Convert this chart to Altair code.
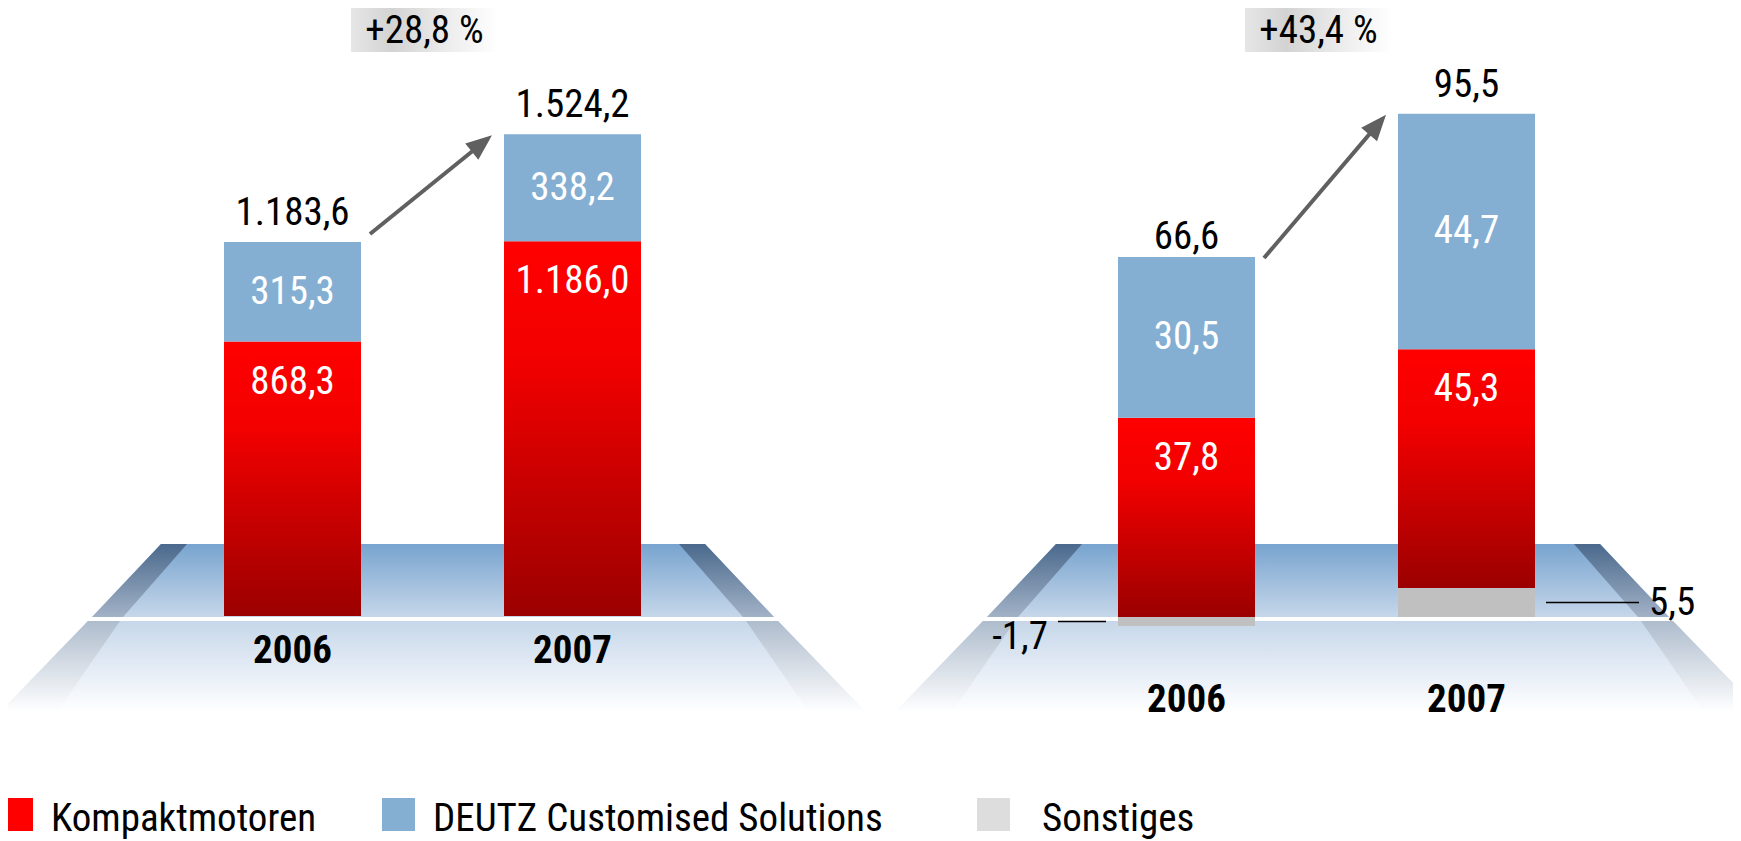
import math
import altair as alt
import pandas as pd

# ---------------- data ----------------
years = ["2006", "2007"]
segments = ["Kompaktmotoren", "DEUTZ Customised Solutions", "Sonstiges"]

umsatz_kompakt = [868.3, 1186.0]
umsatz_dcs = [315.3, 338.2]
umsatz_total = [1183.6, 1524.2]

ebit_kompakt = [37.8, 45.3]
ebit_dcs = [30.5, 44.7]
ebit_sonstiges = [-1.7, 5.5]
ebit_total = [66.6, 95.5]

legend_colors = ["#ff0000", "#84aed2", "#dddddd"]

# ---------------- layout / style ----------------
FONT = "Roboto Condensed, Roboto, sans-serif"
FS = 39
M = 8                      # page margin
W, H = 1725, 833           # svg size
STEP, BARW = 280, 137      # distance between bar centres, bar width
BLUE = "#84aed2"
GREY = "#c0c0c0"
ARROW = "#606060"

legend_square_x = [0, 382, 977]
legend_text_x = [51, 433, 1042]
LEGEND_BASE = 831


def lx(x):
    return x - M


def ly(y):
    return y - M


def stops(pairs):
    return [alt.GradientStop(color=c, offset=o) for o, c in pairs]


def vgrad(pairs):
    return alt.LinearGradient(gradient="linear", stops=stops(pairs), x1=0, x2=0, y1=0, y2=1)


RED_GRAD = vgrad([(0, "#ff0000"), (0.32, "#f20000"), (1, "#9b0000")])
BOX_GRAD = alt.LinearGradient(
    gradient="linear",
    stops=stops([(0, "#e6e6e6"), (0.28, "#d3d3d3"), (0.65, "#ececec"), (1, "#ffffff")]),
    x1=0, x2=1, y1=0, y2=0,
)


def xscale(bar0_left):
    pi = 1 - BARW / STEP
    a = lx(bar0_left)
    b = a + STEP * (2 - pi)
    return alt.Scale(domain=years, range=[a, b], paddingInner=pi, paddingOuter=0, round=False)


def yscale(baseline, k):
    top = ly(baseline) / k
    bottom = -(H - ly(baseline)) / k
    return alt.Scale(domain=[bottom, top], nice=False, zero=False)


# ---------------- platform decoration ----------------
def poly_area(verts, grad):
    xs = sorted(set(v[0] for v in verts))
    n = len(verts)
    rows = []
    for x in xs:
        ys = []
        for i in range(n):
            (x1, y1), (x2, y2) = verts[i], verts[(i + 1) % n]
            if min(x1, x2) <= x <= max(x1, x2):
                if x1 == x2:
                    ys += [y1, y2]
                else:
                    ys.append(y1 + (y2 - y1) * (x - x1) / (x2 - x1))
        rows.append({"px": lx(x), "py": ly(min(ys)), "py2": ly(max(ys))})
    return alt.Chart(pd.DataFrame(rows)).mark_area(color=grad, orient="vertical").encode(
        x=alt.X("px:Q", scale=None), y=alt.Y("py:Q", scale=None), y2="py2:Q"
    )


def platform(dx):
    def s(pts):
        return [(x + dx, y) for x, y in pts]
    return [
        poly_area(s([(88, 621), (778, 621), (866, 712), (0, 712)]),
                  vgrad([(0, "#c6d7e9"), (0.55, "#e6edf6"), (1, "#ffffff")])),
        poly_area(s([(88, 621), (120, 621), (57, 712), (0, 712)]),
                  vgrad([(0, "#aebccd"), (1, "#ffffff")])),
        poly_area(s([(778, 621), (746, 621), (809, 712), (866, 712)]),
                  vgrad([(0, "#aebccd"), (1, "#ffffff")])),
        poly_area(s([(161, 544), (705, 544), (774, 617), (92, 617)]),
                  vgrad([(0, "#78a4cf"), (1, "#c6d7ea")])),
        poly_area(s([(161, 544), (187, 544), (123, 617), (92, 617)]),
                  vgrad([(0, "#4a698c"), (1, "#a2b2c7")])),
        poly_area(s([(705, 544), (679, 544), (743, 617), (774, 617)]),
                  vgrad([(0, "#4a698c"), (1, "#a2b2c7")])),
    ]


# ---------------- panels ----------------
def make_panel(kompakt, dcs, sonst, totals, P):
    rows = []
    for i, yr in enumerate(years):
        if sonst is not None:
            rows.append(dict(year=yr, segment=segments[2], value=sonst[i], order=0))
        rows.append(dict(year=yr, segment=segments[0], value=kompakt[i], order=1))
        rows.append(dict(year=yr, segment=segments[1], value=dcs[i], order=2))
    df = pd.DataFrame(rows)
    xs = xscale(P["bar0_left"])
    ys = yscale(P["baseline"], P["k"])

    def X(field="year", bp=None):
        if bp is None:
            return alt.X(f"{field}:N", scale=xs, axis=None)
        return alt.X(f"{field}:N", scale=xs, axis=None, bandPosition=bp)

    def Y(field):
        return alt.Y(f"{field}:Q", scale=ys, axis=None)

    base = alt.Chart(df).transform_stack(
        stack="value", groupby=["year"], as_=["v0", "v1"],
        sort=[alt.SortField("order", order="ascending")], offset="zero",
    ).transform_calculate(mid="(datum.v0+datum.v1)/2", top="max(datum.v0,datum.v1)")

    def seg(s):
        return base.transform_filter(alt.datum.segment == s)

    txt = dict(font=FONT, fontSize=FS)
    fmt = ",.1f"
    layers = []

    # growth box + label
    gdf = pd.DataFrame([{"y_from": years[0], "y_to": years[1], "t0": totals[0], "t1": totals[1]}])
    gchart = alt.Chart(gdf).transform_calculate(
        growth="(datum.t1 >= datum.t0 ? '+' : '') + replace(format((datum.t1 / datum.t0 - 1) * 100, '.1f'), '.', ',') + ' %'"
    )
    layers.append(gchart.mark_bar(color=BOX_GRAD, width=147, xOffset=132).encode(
        x=X("y_from"), y=alt.value(ly(2)), y2=alt.value(ly(52))))
    layers.append(gchart.mark_text(baseline="alphabetic", dx=132, color="black", **txt).encode(
        x=X("y_from"), y=alt.value(ly(43)), text="growth:N"))

    # stacked bars
    layers.append(seg(segments[0]).mark_bar(color=RED_GRAD).encode(x=X(), y=Y("v0"), y2="v1:Q"))
    layers.append(seg(segments[1]).mark_bar(color=BLUE).encode(x=X(), y=Y("v0"), y2="v1:Q"))
    if sonst is not None:
        layers.append(seg(segments[2]).mark_bar(color=GREY).encode(x=X(), y=Y("v0"), y2="v1:Q"))

    # inner labels
    layers.append(seg(segments[1]).mark_text(color="white", baseline="middle", **txt).encode(
        x=X(), y=Y("mid"), text=alt.Text("value:Q", format=fmt)))
    layers.append(seg(segments[0]).mark_text(color="white", baseline="middle", dy=40, **txt).encode(
        x=X(), y=Y("top"), text=alt.Text("value:Q", format=fmt)))

    # Sonstiges annotations with leader lines
    if sonst is not None:
        pos = base.transform_filter((alt.datum.segment == segments[2]) & (alt.datum.value > 0))
        neg = base.transform_filter((alt.datum.segment == segments[2]) & (alt.datum.value < 0))
        layers.append(pos.mark_rule(color="black", strokeWidth=1.5, xOffset=11, x2Offset=104).encode(
            x=X(bp=1), x2=alt.X2("year:N", bandPosition=1), y=Y("mid")))
        layers.append(pos.mark_text(color="black", align="left", baseline="middle", dx=114, **txt).encode(
            x=X(bp=1), y=Y("mid"), text=alt.Text("value:Q", format=fmt)))
        layers.append(neg.mark_rule(color="black", strokeWidth=1.5, xOffset=-60, x2Offset=-12).encode(
            x=X(bp=0), x2=alt.X2("year:N", bandPosition=0), y=Y("mid")))
        layers.append(neg.mark_text(color="black", align="right", baseline="middle", dx=-70, dy=16, **txt).encode(
            x=X(bp=0), y=Y("mid"), text=alt.Text("value:Q", format=fmt)))

    # totals
    tdf = pd.DataFrame({"year": years, "total": totals})
    layers.append(alt.Chart(tdf).mark_text(color="black", baseline="alphabetic", dy=-17, **txt).encode(
        x=X(), y=Y("total"), text=alt.Text("total:Q", format=fmt)))

    # year labels
    layers.append(alt.Chart(tdf).mark_text(color="black", baseline="alphabetic", fontWeight="bold",
                                           font=FONT, fontSize=FS).encode(
        x=X(), y=alt.value(ly(P["year_baseline"])), text="year:N"))

    # growth arrow
    k = P["k"]
    tail = (9, -8)
    tip = (-12, 1)
    dxp = STEP - BARW + tip[0] - tail[0]
    dyp = -(totals[1] - totals[0]) * k + tip[1] - tail[1]
    L = math.hypot(dxp, dyp)
    ux, uy = dxp / L, dyp / L
    HEAD = 13
    hx, hy = tip[0] - HEAD * ux, tip[1] - HEAD * uy
    ang = math.degrees(math.atan2(ux, -uy)) % 360
    layers.append(alt.Chart(gdf).mark_rule(color=ARROW, strokeWidth=4, xOffset=tail[0], yOffset=tail[1],
                                           x2Offset=hx, y2Offset=hy).encode(
        x=X("y_from", bp=1), x2=alt.X2("y_to:N", bandPosition=0), y=Y("t0"), y2="t1:Q"))
    layers.append(alt.Chart(gdf).mark_point(shape="M0,-1L0.8,1L-0.8,1Z", size=(2 * HEAD) ** 2, filled=True,
                                            color=ARROW, opacity=1, strokeWidth=0, angle=ang,
                                            xOffset=hx, yOffset=hy).encode(
        x=X("y_to", bp=0), y=Y("t1")))
    return alt.layer(*layers)


left = make_panel(umsatz_kompakt, umsatz_dcs, None, umsatz_total,
                  dict(bar0_left=224, baseline=616, k=0.316, year_baseline=663))
right = make_panel(ebit_kompakt, ebit_dcs, ebit_sonstiges, ebit_total,
                   dict(bar0_left=1118, baseline=617, k=5.27, year_baseline=712))

# ---------------- legend ----------------
ldf = pd.DataFrame({
    "label": segments,
    "color": legend_colors,
    "sx": [lx(v) for v in legend_square_x],
    "sx2": [lx(v + 33) for v in legend_square_x],
    "tx": [lx(v) for v in legend_text_x],
})
leg_sq = alt.Chart(ldf).mark_rect().encode(
    x=alt.X("sx:Q", scale=None), x2="sx2:Q",
    y=alt.value(ly(LEGEND_BASE - 33)), y2=alt.value(ly(LEGEND_BASE)),
    color=alt.Color("color:N", scale=None),
)
leg_tx = alt.Chart(ldf).mark_text(align="left", baseline="alphabetic", font=FONT, fontSize=39,
                                  color="black").encode(
    x=alt.X("tx:Q", scale=None), y=alt.value(ly(LEGEND_BASE)), text="label:N")

decor = platform(0) + platform(895)

chart = alt.layer(*decor, left, right, leg_sq, leg_tx).resolve_scale(
    x="independent", y="independent"
).properties(
    width=W, height=H, padding=0, autosize=alt.AutoSizeParams(type="none"), background="white"
).configure(
    locale=alt.Locale(number=alt.NumberLocale(decimal=",", thousands=".", grouping=[3],
                                              currency=["", " €"], minus="-"))
).configure_view(stroke=None, strokeWidth=0)

chart.save("out.html", embed_options={"renderer": "svg", "actions": False})
